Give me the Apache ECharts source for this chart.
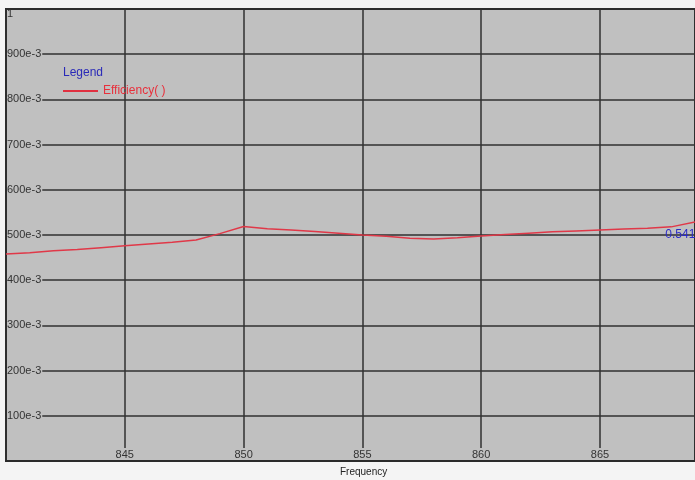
<!DOCTYPE html>
<html>
<head>
<meta charset="utf-8">
<script src="https://cdn.jsdelivr.net/npm/echarts@6/dist/echarts.min.js"></script>
<style>html,body{margin:0;padding:0;background:#f4f4f4;}#c{width:695px;height:480px;}</style>
</head>
<body>
<div id="c"></div>
<script>
// Frequency (MHz)
const frequency = [840,841,842,843,844,845,846,847,848,849,850,851,852,853,854,855,856,857,858,859,860,861,862,863,864,865,866,867,868,869];
// Efficiency values
const efficiency = [0.458,0.461,0.465,0.468,0.472,0.476,0.480,0.484,0.489,0.503,0.519,0.514,0.511,0.508,0.504,0.500,0.497,0.493,0.491,0.494,0.498,0.501,0.504,0.507,0.509,0.511,0.513,0.515,0.518,0.529];
const seriesName = 'Efficiency( )';
const markerText = '0.541';

const chart = echarts.init(document.getElementById('c'));
const pts = frequency.map((f, i) => [f, efficiency[i]]);
const labelColor = '#333333';
chart.setOption({
  backgroundColor: '#f4f4f4',
  animation: false,
  title: {
    text: 'Legend', left: 58, top: 62,
    textStyle: { color: '#2a2ab8', fontSize: 12, fontWeight: 'normal', fontFamily: 'Liberation Sans' }
  },
  legend: {
    left: 58, top: 80, itemWidth: 35, itemHeight: 2, icon: 'rect', itemGap: 0,
    textStyle: { color: '#e8303c', fontSize: 12, fontFamily: 'Liberation Sans' },
    data: [seriesName]
  },
  grid: {
    left: 6, top: 9, right: -2, bottom: 19,
    show: true, backgroundColor: '#c0c0c0', borderColor: '#2a2a2a', borderWidth: 2
  },
  xAxis: {
    type: 'value', min: 840, max: 869, interval: 5,
    axisLine: { show: true, lineStyle: { color: '#2a2a2a', width: 2 } },
    axisTick: { show: false },
    splitLine: { show: true, lineStyle: { color: '#303030', width: 1.5 } },
    axisLabel: {
      inside: true, margin: 1, showMinLabel: false, showMaxLabel: false,
      color: labelColor, fontSize: 11, fontFamily: 'Liberation Sans',
      backgroundColor: '#c0c0c0', padding: [1, 1, 0, 1]
    }
  },
  yAxis: {
    type: 'value', min: 0, max: 1, interval: 0.1,
    axisLine: { show: false },
    axisTick: { show: false },
    splitLine: { show: true, lineStyle: { color: '#303030', width: 1.5 } },
    axisLabel: {
      inside: true, margin: 1, showMinLabel: false,
      color: labelColor, fontSize: 11, fontFamily: 'Liberation Sans',
      formatter: function (v) {
        if (v >= 0.999) return '{t|1}';
        return '{n|' + Math.round(v * 1000) + 'e-3}';
      },
      rich: {
        n: { backgroundColor: '#c0c0c0', color: labelColor, fontSize: 11, fontFamily: 'Liberation Sans', padding: [1, 1, 1, 0] },
        t: { color: labelColor, fontSize: 11, fontFamily: 'Liberation Sans', padding: [9, 0, 0, 0] }
      }
    }
  },
  graphic: [{
    type: 'text', left: 340, top: 467,
    style: { text: 'Frequency', fill: '#222', fontSize: 10, fontFamily: 'Liberation Sans' }
  }],
  series: [{
    name: seriesName, type: 'line', data: pts, showSymbol: false, symbol: 'none',
    lineStyle: { color: '#e03848', width: 1.5 }, itemStyle: { color: '#e03040' },
    markPoint: {
      symbol: 'circle', symbolSize: 0, silent: true,
      data: [{ coord: [867.75, 0.5] }],
      label: {
        show: true, position: 'right', distance: 0, formatter: markerText,
        color: '#2a2ac8', fontSize: 12, fontFamily: 'Liberation Sans'
      }
    }
  }]
});
</script>
</body>
</html>
